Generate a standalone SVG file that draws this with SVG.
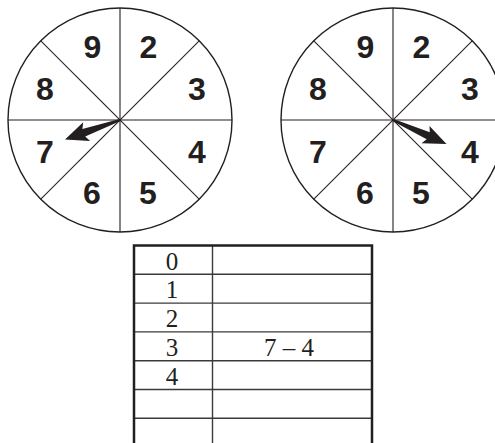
<svg xmlns="http://www.w3.org/2000/svg" width="495" height="443" viewBox="0 0 495 443">
<style>
.rim{fill:#fff;stroke:#231f20;stroke-width:1.4}
.spoke{stroke:#231f20;stroke-width:1.1}
.num{font-family:"Liberation Sans",Arial,sans-serif;font-weight:bold;font-size:32px;fill:#231f20;text-anchor:middle}
.arrow{fill:#231f20}
.cell{font-family:"Liberation Serif","Times New Roman",serif;font-size:25px;fill:#231f20;text-anchor:middle}
.outer{fill:none;stroke:#231f20;stroke-width:2.5}
.inner{stroke:#3a3a3a;stroke-width:1.4}
</style>
<defs>
<g id="wheel">
<circle class="rim" cx="0" cy="0" r="112"/>
<line class="spoke" x1="-112" y1="0" x2="112" y2="0"/>
<line class="spoke" x1="0" y1="-112" x2="0" y2="112"/>
<line class="spoke" x1="-79.2" y1="-79.2" x2="79.2" y2="79.2"/>
<line class="spoke" x1="-79.2" y1="79.2" x2="79.2" y2="-79.2"/>
<text class="num" x="-27.5" y="-62">9</text>
<text class="num" x="28.5" y="-62">2</text>
<text class="num" x="-75" y="-20.5">8</text>
<text class="num" x="77" y="-20.5">3</text>
<text class="num" x="-75" y="43">7</text>
<text class="num" x="77" y="43">4</text>
<text class="num" x="-28" y="84">6</text>
<text class="num" x="28" y="84">5</text>
</g>
</defs>
<g id="spinner1">
<use href="#wheel" x="120" y="120"/>
<polygon class="arrow" points="65,139.5 90.1,141.1 85.2,136.4 120.4,121.1 119.6,118.9 82.4,128.9 83.2,122.2"/>
</g>
<g id="spinner2">
<use href="#wheel" x="393" y="120"/>
<polygon class="arrow" points="446.5,144 421.6,143.2 426.7,139.2 392.5,121 393.5,119 429.8,132.3 429.5,125.9"/>
</g>
<g id="table">
<line class="inner" x1="212.5" y1="245.5" x2="212.5" y2="443"/>
<line class="inner" x1="134" y1="274.3" x2="372" y2="274.3"/>
<line class="inner" x1="134" y1="303.1" x2="372" y2="303.1"/>
<line class="inner" x1="134" y1="331.9" x2="372" y2="331.9"/>
<line class="inner" x1="134" y1="360.7" x2="372" y2="360.7"/>
<line class="inner" x1="134" y1="389.5" x2="372" y2="389.5"/>
<line class="inner" x1="134" y1="418.3" x2="372" y2="418.3"/>
<path class="outer" d="M134,445 V245.5 H372 V445"/>
<text class="cell" x="172" y="269.5">0</text>
<text class="cell" x="172" y="298.3">1</text>
<text class="cell" x="172" y="327.1">2</text>
<text class="cell" x="172" y="355.9">3</text>
<text class="cell" x="172" y="384.7">4</text>
<text class="cell" x="289" y="355.9">7 – 4</text>
</g>
</svg>
